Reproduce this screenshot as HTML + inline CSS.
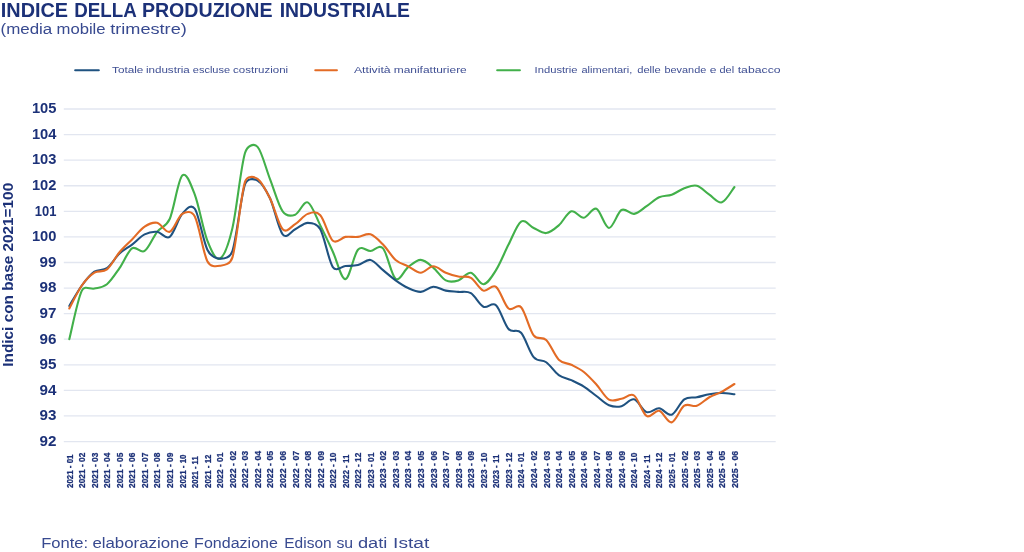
<!DOCTYPE html>
<html lang="it"><head><meta charset="utf-8"><title>Indice della produzione industriale</title>
<style>
html,body{margin:0;padding:0;background:#fff;}
body{width:1024px;height:552px;overflow:hidden;font-family:"Liberation Sans",sans-serif;}
svg{display:block}
text{font-family:"Liberation Sans",sans-serif;}
</style></head><body>
<svg width="1024" height="552" viewBox="0 0 1024 552">
<rect width="1024" height="552" fill="#fff"/>

<text y="16.6" font-size="19.6" font-weight="bold" fill="#1c3178"><tspan x="0.8" textLength="67.3" lengthAdjust="spacingAndGlyphs">INDICE</tspan> <tspan x="74.2" textLength="61.8" lengthAdjust="spacingAndGlyphs">DELLA</tspan> <tspan x="141.9" textLength="130.6" lengthAdjust="spacingAndGlyphs">PRODUZIONE</tspan> <tspan x="279.7" textLength="130.2" lengthAdjust="spacingAndGlyphs">INDUSTRIALE</tspan></text>
<text y="33.6" font-size="15.4" fill="#384a90"><tspan x="0.5" textLength="51.8" lengthAdjust="spacingAndGlyphs">(media</tspan> <tspan x="56.5" textLength="49.1" lengthAdjust="spacingAndGlyphs">mobile</tspan> <tspan x="110.2" textLength="76.6" lengthAdjust="spacingAndGlyphs">trimestre)</tspan></text>
<line x1="75.2" y1="70.3" x2="98.8" y2="70.3" stroke="#1f5280" stroke-width="2.1" stroke-linecap="round"/>
<text y="73.0" font-size="9.4" fill="#3f4f93"><tspan x="112.1" textLength="31.3" lengthAdjust="spacingAndGlyphs">Totale</tspan> <tspan x="145.9" textLength="43.9" lengthAdjust="spacingAndGlyphs">industria</tspan> <tspan x="192.8" textLength="37.3" lengthAdjust="spacingAndGlyphs">escluse</tspan> <tspan x="233.1" textLength="55.0" lengthAdjust="spacingAndGlyphs">costruzioni</tspan></text>
<line x1="315.3" y1="70.3" x2="336.9" y2="70.3" stroke="#e36b25" stroke-width="2.1" stroke-linecap="round"/>
<text y="73.0" font-size="9.4" fill="#3f4f93"><tspan x="353.9" textLength="36.8" lengthAdjust="spacingAndGlyphs">Attività</tspan> <tspan x="393.7" textLength="73.1" lengthAdjust="spacingAndGlyphs">manifatturiere</tspan></text>
<line x1="497.2" y1="70.3" x2="519.9" y2="70.3" stroke="#42b04a" stroke-width="2.1" stroke-linecap="round"/>
<text y="73.0" font-size="9.4" fill="#3f4f93"><tspan x="534.6" textLength="43.0" lengthAdjust="spacingAndGlyphs">Industrie</tspan> <tspan x="581.5" textLength="50.8" lengthAdjust="spacingAndGlyphs">alimentari,</tspan> <tspan x="637.2" textLength="23.6" lengthAdjust="spacingAndGlyphs">delle</tspan> <tspan x="664.5" textLength="41.8" lengthAdjust="spacingAndGlyphs">bevande</tspan> <tspan x="709.8" textLength="6.7" lengthAdjust="spacingAndGlyphs">e</tspan> <tspan x="719.5" textLength="14.6" lengthAdjust="spacingAndGlyphs">del</tspan> <tspan x="737.7" textLength="42.9" lengthAdjust="spacingAndGlyphs">tabacco</tspan></text>
<line x1="63.8" y1="441.54" x2="775.7" y2="441.54" stroke="#e2e6f0" stroke-width="1.3"/>
<line x1="63.8" y1="415.96" x2="775.7" y2="415.96" stroke="#e2e6f0" stroke-width="1.3"/>
<line x1="63.8" y1="390.38" x2="775.7" y2="390.38" stroke="#e2e6f0" stroke-width="1.3"/>
<line x1="63.8" y1="364.80" x2="775.7" y2="364.80" stroke="#e2e6f0" stroke-width="1.3"/>
<line x1="63.8" y1="339.22" x2="775.7" y2="339.22" stroke="#e2e6f0" stroke-width="1.3"/>
<line x1="63.8" y1="313.64" x2="775.7" y2="313.64" stroke="#e2e6f0" stroke-width="1.3"/>
<line x1="63.8" y1="288.06" x2="775.7" y2="288.06" stroke="#e2e6f0" stroke-width="1.3"/>
<line x1="63.8" y1="262.48" x2="775.7" y2="262.48" stroke="#e2e6f0" stroke-width="1.3"/>
<line x1="63.8" y1="236.90" x2="775.7" y2="236.90" stroke="#e2e6f0" stroke-width="1.3"/>
<line x1="63.8" y1="211.32" x2="775.7" y2="211.32" stroke="#e2e6f0" stroke-width="1.3"/>
<line x1="63.8" y1="185.74" x2="775.7" y2="185.74" stroke="#e2e6f0" stroke-width="1.3"/>
<line x1="63.8" y1="160.16" x2="775.7" y2="160.16" stroke="#e2e6f0" stroke-width="1.3"/>
<line x1="63.8" y1="134.58" x2="775.7" y2="134.58" stroke="#e2e6f0" stroke-width="1.3"/>
<line x1="63.8" y1="109.00" x2="775.7" y2="109.00" stroke="#e2e6f0" stroke-width="1.3"/>
<text x="39.5" y="445.84" font-size="13.9" font-weight="bold" fill="#1c3178" textLength="16.9" lengthAdjust="spacingAndGlyphs">92</text>
<text x="39.5" y="420.26" font-size="13.9" font-weight="bold" fill="#1c3178" textLength="16.9" lengthAdjust="spacingAndGlyphs">93</text>
<text x="39.5" y="394.68" font-size="13.9" font-weight="bold" fill="#1c3178" textLength="16.9" lengthAdjust="spacingAndGlyphs">94</text>
<text x="39.5" y="369.10" font-size="13.9" font-weight="bold" fill="#1c3178" textLength="16.9" lengthAdjust="spacingAndGlyphs">95</text>
<text x="39.5" y="343.52" font-size="13.9" font-weight="bold" fill="#1c3178" textLength="16.9" lengthAdjust="spacingAndGlyphs">96</text>
<text x="39.5" y="317.94" font-size="13.9" font-weight="bold" fill="#1c3178" textLength="16.9" lengthAdjust="spacingAndGlyphs">97</text>
<text x="39.5" y="292.36" font-size="13.9" font-weight="bold" fill="#1c3178" textLength="16.9" lengthAdjust="spacingAndGlyphs">98</text>
<text x="39.5" y="266.78" font-size="13.9" font-weight="bold" fill="#1c3178" textLength="16.9" lengthAdjust="spacingAndGlyphs">99</text>
<text x="31.9" y="241.20" font-size="13.9" font-weight="bold" fill="#1c3178" textLength="24.5" lengthAdjust="spacingAndGlyphs">100</text>
<text x="34.8" y="215.62" font-size="13.9" font-weight="bold" fill="#1c3178" textLength="21.6" lengthAdjust="spacingAndGlyphs">101</text>
<text x="31.9" y="190.04" font-size="13.9" font-weight="bold" fill="#1c3178" textLength="24.5" lengthAdjust="spacingAndGlyphs">102</text>
<text x="31.9" y="164.46" font-size="13.9" font-weight="bold" fill="#1c3178" textLength="24.5" lengthAdjust="spacingAndGlyphs">103</text>
<text x="31.9" y="138.88" font-size="13.9" font-weight="bold" fill="#1c3178" textLength="24.5" lengthAdjust="spacingAndGlyphs">104</text>
<text x="31.9" y="113.30" font-size="13.9" font-weight="bold" fill="#1c3178" textLength="24.5" lengthAdjust="spacingAndGlyphs">105</text>
<text transform="translate(13.0,366.7) rotate(-90)" font-size="14.3" font-weight="bold" fill="#1c3178" textLength="183.9" lengthAdjust="spacingAndGlyphs">Indici con base 2021=100</text>
<text transform="translate(72.60,488.0) rotate(-90)" font-size="8.3" font-weight="bold" fill="#1c3178" stroke="#1c3178" stroke-width="0.25" textLength="33.50" lengthAdjust="spacingAndGlyphs">2021 - 01</text>
<text transform="translate(85.15,488.0) rotate(-90)" font-size="8.3" font-weight="bold" fill="#1c3178" stroke="#1c3178" stroke-width="0.25" textLength="35.35" lengthAdjust="spacingAndGlyphs">2021 - 02</text>
<text transform="translate(97.70,488.0) rotate(-90)" font-size="8.3" font-weight="bold" fill="#1c3178" stroke="#1c3178" stroke-width="0.25" textLength="35.35" lengthAdjust="spacingAndGlyphs">2021 - 03</text>
<text transform="translate(110.25,488.0) rotate(-90)" font-size="8.3" font-weight="bold" fill="#1c3178" stroke="#1c3178" stroke-width="0.25" textLength="35.35" lengthAdjust="spacingAndGlyphs">2021 - 04</text>
<text transform="translate(122.80,488.0) rotate(-90)" font-size="8.3" font-weight="bold" fill="#1c3178" stroke="#1c3178" stroke-width="0.25" textLength="35.35" lengthAdjust="spacingAndGlyphs">2021 - 05</text>
<text transform="translate(135.35,488.0) rotate(-90)" font-size="8.3" font-weight="bold" fill="#1c3178" stroke="#1c3178" stroke-width="0.25" textLength="35.35" lengthAdjust="spacingAndGlyphs">2021 - 06</text>
<text transform="translate(147.90,488.0) rotate(-90)" font-size="8.3" font-weight="bold" fill="#1c3178" stroke="#1c3178" stroke-width="0.25" textLength="35.35" lengthAdjust="spacingAndGlyphs">2021 - 07</text>
<text transform="translate(160.45,488.0) rotate(-90)" font-size="8.3" font-weight="bold" fill="#1c3178" stroke="#1c3178" stroke-width="0.25" textLength="35.35" lengthAdjust="spacingAndGlyphs">2021 - 08</text>
<text transform="translate(173.00,488.0) rotate(-90)" font-size="8.3" font-weight="bold" fill="#1c3178" stroke="#1c3178" stroke-width="0.25" textLength="35.35" lengthAdjust="spacingAndGlyphs">2021 - 09</text>
<text transform="translate(185.55,488.0) rotate(-90)" font-size="8.3" font-weight="bold" fill="#1c3178" stroke="#1c3178" stroke-width="0.25" textLength="33.50" lengthAdjust="spacingAndGlyphs">2021 - 10</text>
<text transform="translate(198.10,488.0) rotate(-90)" font-size="8.3" font-weight="bold" fill="#1c3178" stroke="#1c3178" stroke-width="0.25" textLength="31.65" lengthAdjust="spacingAndGlyphs">2021 - 11</text>
<text transform="translate(210.65,488.0) rotate(-90)" font-size="8.3" font-weight="bold" fill="#1c3178" stroke="#1c3178" stroke-width="0.25" textLength="33.50" lengthAdjust="spacingAndGlyphs">2021 - 12</text>
<text transform="translate(223.20,488.0) rotate(-90)" font-size="8.3" font-weight="bold" fill="#1c3178" stroke="#1c3178" stroke-width="0.25" textLength="35.35" lengthAdjust="spacingAndGlyphs">2022 - 01</text>
<text transform="translate(235.75,488.0) rotate(-90)" font-size="8.3" font-weight="bold" fill="#1c3178" stroke="#1c3178" stroke-width="0.25" textLength="37.20" lengthAdjust="spacingAndGlyphs">2022 - 02</text>
<text transform="translate(248.30,488.0) rotate(-90)" font-size="8.3" font-weight="bold" fill="#1c3178" stroke="#1c3178" stroke-width="0.25" textLength="37.20" lengthAdjust="spacingAndGlyphs">2022 - 03</text>
<text transform="translate(260.85,488.0) rotate(-90)" font-size="8.3" font-weight="bold" fill="#1c3178" stroke="#1c3178" stroke-width="0.25" textLength="37.20" lengthAdjust="spacingAndGlyphs">2022 - 04</text>
<text transform="translate(273.40,488.0) rotate(-90)" font-size="8.3" font-weight="bold" fill="#1c3178" stroke="#1c3178" stroke-width="0.25" textLength="37.20" lengthAdjust="spacingAndGlyphs">2022 - 05</text>
<text transform="translate(285.95,488.0) rotate(-90)" font-size="8.3" font-weight="bold" fill="#1c3178" stroke="#1c3178" stroke-width="0.25" textLength="37.20" lengthAdjust="spacingAndGlyphs">2022 - 06</text>
<text transform="translate(298.50,488.0) rotate(-90)" font-size="8.3" font-weight="bold" fill="#1c3178" stroke="#1c3178" stroke-width="0.25" textLength="37.20" lengthAdjust="spacingAndGlyphs">2022 - 07</text>
<text transform="translate(311.05,488.0) rotate(-90)" font-size="8.3" font-weight="bold" fill="#1c3178" stroke="#1c3178" stroke-width="0.25" textLength="37.20" lengthAdjust="spacingAndGlyphs">2022 - 08</text>
<text transform="translate(323.60,488.0) rotate(-90)" font-size="8.3" font-weight="bold" fill="#1c3178" stroke="#1c3178" stroke-width="0.25" textLength="37.20" lengthAdjust="spacingAndGlyphs">2022 - 09</text>
<text transform="translate(336.15,488.0) rotate(-90)" font-size="8.3" font-weight="bold" fill="#1c3178" stroke="#1c3178" stroke-width="0.25" textLength="35.35" lengthAdjust="spacingAndGlyphs">2022 - 10</text>
<text transform="translate(348.70,488.0) rotate(-90)" font-size="8.3" font-weight="bold" fill="#1c3178" stroke="#1c3178" stroke-width="0.25" textLength="33.50" lengthAdjust="spacingAndGlyphs">2022 - 11</text>
<text transform="translate(361.25,488.0) rotate(-90)" font-size="8.3" font-weight="bold" fill="#1c3178" stroke="#1c3178" stroke-width="0.25" textLength="35.35" lengthAdjust="spacingAndGlyphs">2022 - 12</text>
<text transform="translate(373.80,488.0) rotate(-90)" font-size="8.3" font-weight="bold" fill="#1c3178" stroke="#1c3178" stroke-width="0.25" textLength="35.35" lengthAdjust="spacingAndGlyphs">2023 - 01</text>
<text transform="translate(386.35,488.0) rotate(-90)" font-size="8.3" font-weight="bold" fill="#1c3178" stroke="#1c3178" stroke-width="0.25" textLength="37.20" lengthAdjust="spacingAndGlyphs">2023 - 02</text>
<text transform="translate(398.90,488.0) rotate(-90)" font-size="8.3" font-weight="bold" fill="#1c3178" stroke="#1c3178" stroke-width="0.25" textLength="37.20" lengthAdjust="spacingAndGlyphs">2023 - 03</text>
<text transform="translate(411.45,488.0) rotate(-90)" font-size="8.3" font-weight="bold" fill="#1c3178" stroke="#1c3178" stroke-width="0.25" textLength="37.20" lengthAdjust="spacingAndGlyphs">2023 - 04</text>
<text transform="translate(424.00,488.0) rotate(-90)" font-size="8.3" font-weight="bold" fill="#1c3178" stroke="#1c3178" stroke-width="0.25" textLength="37.20" lengthAdjust="spacingAndGlyphs">2023 - 05</text>
<text transform="translate(436.55,488.0) rotate(-90)" font-size="8.3" font-weight="bold" fill="#1c3178" stroke="#1c3178" stroke-width="0.25" textLength="37.20" lengthAdjust="spacingAndGlyphs">2023 - 06</text>
<text transform="translate(449.10,488.0) rotate(-90)" font-size="8.3" font-weight="bold" fill="#1c3178" stroke="#1c3178" stroke-width="0.25" textLength="37.20" lengthAdjust="spacingAndGlyphs">2023 - 07</text>
<text transform="translate(461.65,488.0) rotate(-90)" font-size="8.3" font-weight="bold" fill="#1c3178" stroke="#1c3178" stroke-width="0.25" textLength="37.20" lengthAdjust="spacingAndGlyphs">2023 - 08</text>
<text transform="translate(474.20,488.0) rotate(-90)" font-size="8.3" font-weight="bold" fill="#1c3178" stroke="#1c3178" stroke-width="0.25" textLength="37.20" lengthAdjust="spacingAndGlyphs">2023 - 09</text>
<text transform="translate(486.75,488.0) rotate(-90)" font-size="8.3" font-weight="bold" fill="#1c3178" stroke="#1c3178" stroke-width="0.25" textLength="35.35" lengthAdjust="spacingAndGlyphs">2023 - 10</text>
<text transform="translate(499.30,488.0) rotate(-90)" font-size="8.3" font-weight="bold" fill="#1c3178" stroke="#1c3178" stroke-width="0.25" textLength="33.50" lengthAdjust="spacingAndGlyphs">2023 - 11</text>
<text transform="translate(511.85,488.0) rotate(-90)" font-size="8.3" font-weight="bold" fill="#1c3178" stroke="#1c3178" stroke-width="0.25" textLength="35.35" lengthAdjust="spacingAndGlyphs">2023 - 12</text>
<text transform="translate(524.40,488.0) rotate(-90)" font-size="8.3" font-weight="bold" fill="#1c3178" stroke="#1c3178" stroke-width="0.25" textLength="35.35" lengthAdjust="spacingAndGlyphs">2024 - 01</text>
<text transform="translate(536.95,488.0) rotate(-90)" font-size="8.3" font-weight="bold" fill="#1c3178" stroke="#1c3178" stroke-width="0.25" textLength="37.20" lengthAdjust="spacingAndGlyphs">2024 - 02</text>
<text transform="translate(549.50,488.0) rotate(-90)" font-size="8.3" font-weight="bold" fill="#1c3178" stroke="#1c3178" stroke-width="0.25" textLength="37.20" lengthAdjust="spacingAndGlyphs">2024 - 03</text>
<text transform="translate(562.05,488.0) rotate(-90)" font-size="8.3" font-weight="bold" fill="#1c3178" stroke="#1c3178" stroke-width="0.25" textLength="37.20" lengthAdjust="spacingAndGlyphs">2024 - 04</text>
<text transform="translate(574.60,488.0) rotate(-90)" font-size="8.3" font-weight="bold" fill="#1c3178" stroke="#1c3178" stroke-width="0.25" textLength="37.20" lengthAdjust="spacingAndGlyphs">2024 - 05</text>
<text transform="translate(587.15,488.0) rotate(-90)" font-size="8.3" font-weight="bold" fill="#1c3178" stroke="#1c3178" stroke-width="0.25" textLength="37.20" lengthAdjust="spacingAndGlyphs">2024 - 06</text>
<text transform="translate(599.70,488.0) rotate(-90)" font-size="8.3" font-weight="bold" fill="#1c3178" stroke="#1c3178" stroke-width="0.25" textLength="37.20" lengthAdjust="spacingAndGlyphs">2024 - 07</text>
<text transform="translate(612.25,488.0) rotate(-90)" font-size="8.3" font-weight="bold" fill="#1c3178" stroke="#1c3178" stroke-width="0.25" textLength="37.20" lengthAdjust="spacingAndGlyphs">2024 - 08</text>
<text transform="translate(624.80,488.0) rotate(-90)" font-size="8.3" font-weight="bold" fill="#1c3178" stroke="#1c3178" stroke-width="0.25" textLength="37.20" lengthAdjust="spacingAndGlyphs">2024 - 09</text>
<text transform="translate(637.35,488.0) rotate(-90)" font-size="8.3" font-weight="bold" fill="#1c3178" stroke="#1c3178" stroke-width="0.25" textLength="35.35" lengthAdjust="spacingAndGlyphs">2024 - 10</text>
<text transform="translate(649.90,488.0) rotate(-90)" font-size="8.3" font-weight="bold" fill="#1c3178" stroke="#1c3178" stroke-width="0.25" textLength="33.50" lengthAdjust="spacingAndGlyphs">2024 - 11</text>
<text transform="translate(662.45,488.0) rotate(-90)" font-size="8.3" font-weight="bold" fill="#1c3178" stroke="#1c3178" stroke-width="0.25" textLength="35.35" lengthAdjust="spacingAndGlyphs">2024 - 12</text>
<text transform="translate(675.00,488.0) rotate(-90)" font-size="8.3" font-weight="bold" fill="#1c3178" stroke="#1c3178" stroke-width="0.25" textLength="35.35" lengthAdjust="spacingAndGlyphs">2025 - 01</text>
<text transform="translate(687.55,488.0) rotate(-90)" font-size="8.3" font-weight="bold" fill="#1c3178" stroke="#1c3178" stroke-width="0.25" textLength="37.20" lengthAdjust="spacingAndGlyphs">2025 - 02</text>
<text transform="translate(700.10,488.0) rotate(-90)" font-size="8.3" font-weight="bold" fill="#1c3178" stroke="#1c3178" stroke-width="0.25" textLength="37.20" lengthAdjust="spacingAndGlyphs">2025 - 03</text>
<text transform="translate(712.65,488.0) rotate(-90)" font-size="8.3" font-weight="bold" fill="#1c3178" stroke="#1c3178" stroke-width="0.25" textLength="37.20" lengthAdjust="spacingAndGlyphs">2025 - 04</text>
<text transform="translate(725.20,488.0) rotate(-90)" font-size="8.3" font-weight="bold" fill="#1c3178" stroke="#1c3178" stroke-width="0.25" textLength="37.20" lengthAdjust="spacingAndGlyphs">2025 - 05</text>
<text transform="translate(737.75,488.0) rotate(-90)" font-size="8.3" font-weight="bold" fill="#1c3178" stroke="#1c3178" stroke-width="0.25" textLength="37.20" lengthAdjust="spacingAndGlyphs">2025 - 06</text>
<path d="M69.30,339.22C71.39,331.12 77.67,299.06 81.85,290.62C84.67,284.92 90.22,289.64 94.40,288.57C98.58,287.51 102.77,287.63 106.95,284.22C111.13,280.81 115.32,274.08 119.50,268.11C123.68,262.14 127.87,251.27 132.05,248.41C136.23,245.55 140.42,253.74 144.60,250.97C148.78,248.20 152.97,237.11 157.15,231.78C161.33,226.45 166.05,227.18 169.70,218.99C173.88,209.61 178.07,179.56 182.25,175.51C186.43,171.46 190.68,184.00 194.80,194.69C198.98,205.56 203.17,230.08 207.35,240.74C211.34,250.91 215.72,260.77 219.90,258.64C224.08,256.51 228.62,244.08 232.45,227.95C236.63,210.34 240.82,166.51 245.00,153.00C247.07,146.32 253.37,142.47 257.55,146.86C261.73,151.25 265.92,168.60 270.10,179.34C274.28,190.09 278.47,205.44 282.65,211.32C286.41,216.61 291.02,216.14 295.20,214.65C299.38,213.15 303.57,200.58 307.75,202.37C311.93,204.16 316.12,217.16 320.30,225.39C324.48,233.62 328.67,242.78 332.85,251.74C337.03,260.69 341.22,279.45 345.40,279.11C349.58,278.77 353.77,254.38 357.95,249.69C362.13,245.00 366.32,251.18 370.50,250.97C374.68,250.76 378.87,243.76 383.05,248.41C387.23,253.06 391.42,275.74 395.60,278.85C399.78,281.96 403.97,270.24 408.15,267.08C412.33,263.93 416.52,259.84 420.70,259.92C424.88,260.01 429.07,264.19 433.25,267.60C437.43,271.01 441.62,278.25 445.80,280.39C449.98,282.52 454.17,281.67 458.35,280.39C462.53,279.11 466.72,272.07 470.90,272.71C475.08,273.35 479.27,284.65 483.45,284.22C487.63,283.80 491.82,276.76 496.00,270.15C500.18,263.55 504.37,252.67 508.55,244.57C512.73,236.47 516.92,224.32 521.10,221.55C525.28,218.78 529.47,226.03 533.65,227.95C537.83,229.87 542.02,233.49 546.20,233.06C550.38,232.64 554.57,229.01 558.75,225.39C562.93,221.77 567.12,212.60 571.30,211.32C575.48,210.04 579.67,218.14 583.85,217.71C588.03,217.29 592.22,207.06 596.40,208.76C600.58,210.47 604.77,227.73 608.95,227.95C613.13,228.16 617.32,212.39 621.50,210.04C625.68,207.70 629.87,214.52 634.05,213.88C638.23,213.24 642.42,208.98 646.60,206.20C650.78,203.43 654.97,199.17 659.15,197.25C663.33,195.33 667.52,196.19 671.70,194.69C675.88,193.20 680.07,189.79 684.25,188.30C688.43,186.81 692.62,184.67 696.80,185.74C700.98,186.81 705.17,191.92 709.35,194.69C713.53,197.46 717.72,203.65 721.90,202.37C726.08,201.09 732.36,189.58 734.45,187.02" fill="none" stroke="#42b04a" stroke-width="2.1" stroke-linecap="round" stroke-linejoin="round"/>
<path d="M69.30,305.97C71.39,302.56 77.67,291.21 81.85,285.50C86.03,279.79 90.22,274.59 94.40,271.69C98.58,268.79 102.77,271.13 106.95,268.11C111.13,265.08 115.32,257.45 119.50,253.53C123.68,249.60 127.87,247.77 132.05,244.57C136.23,241.38 140.42,236.47 144.60,234.34C148.78,232.21 152.97,231.36 157.15,231.78C161.33,232.21 165.52,239.88 169.70,236.90C173.88,233.92 178.07,218.57 182.25,213.88C186.43,209.19 190.91,203.21 194.80,208.76C198.98,214.73 203.17,241.38 207.35,249.69C210.81,256.58 215.72,258.43 219.90,258.64C224.08,258.86 230.09,257.94 232.45,250.97C236.63,238.61 240.82,196.19 245.00,184.46C247.21,178.28 253.37,178.28 257.55,180.62C261.73,182.97 265.92,189.58 270.10,198.53C274.28,207.48 278.47,229.23 282.65,234.34C286.83,239.46 291.02,231.14 295.20,229.23C299.38,227.31 303.57,222.83 307.75,222.83C311.93,222.83 316.83,223.10 320.30,229.23C324.48,236.60 328.67,260.95 332.85,267.08C336.40,272.29 341.22,266.40 345.40,266.06C349.58,265.72 353.77,266.06 357.95,265.04C362.13,264.01 366.32,259.07 370.50,259.92C374.68,260.77 378.87,266.74 383.05,270.15C387.23,273.56 391.42,277.40 395.60,280.39C399.78,283.37 403.97,286.14 408.15,288.06C412.33,289.98 416.52,292.11 420.70,291.90C424.88,291.68 429.07,286.99 433.25,286.78C437.43,286.57 441.62,289.77 445.80,290.62C449.98,291.47 454.17,291.47 458.35,291.90C462.53,292.32 466.72,290.70 470.90,293.18C475.08,295.65 479.27,304.73 483.45,306.73C487.63,308.74 491.82,301.49 496.00,305.20C500.18,308.91 504.37,324.38 508.55,328.99C512.73,333.59 516.92,328.14 521.10,332.82C525.28,337.51 529.47,352.22 533.65,357.13C537.83,362.03 542.02,359.26 546.20,362.24C550.38,365.23 554.57,372.05 558.75,375.03C562.93,378.02 567.12,378.23 571.30,380.15C575.48,382.07 579.67,383.90 583.85,386.54C588.03,389.19 592.22,392.90 596.40,396.01C600.58,399.12 604.77,403.51 608.95,405.22C613.13,406.92 617.32,407.22 621.50,406.24C625.68,405.26 629.87,398.35 634.05,399.33C638.23,400.31 642.42,410.63 646.60,412.12C650.78,413.62 654.97,407.86 659.15,408.29C663.33,408.71 667.52,416.17 671.70,414.68C675.88,413.19 680.07,402.23 684.25,399.33C688.43,396.43 692.62,398.14 696.80,397.29C700.98,396.43 705.17,394.94 709.35,394.22C713.53,393.49 717.72,392.94 721.90,392.94C726.08,392.94 732.36,394.00 734.45,394.22" fill="none" stroke="#1f5280" stroke-width="2.1" stroke-linecap="round" stroke-linejoin="round"/>
<path d="M69.30,308.52C71.39,304.69 77.67,291.47 81.85,285.50C86.03,279.53 90.22,275.40 94.40,272.71C98.58,270.03 102.77,272.80 106.95,269.39C111.13,265.98 115.32,257.24 119.50,252.25C123.68,247.26 127.87,243.72 132.05,239.46C136.23,235.19 140.42,229.44 144.60,226.67C148.78,223.90 152.97,221.98 157.15,222.83C161.33,223.68 165.52,233.28 169.70,231.78C173.88,230.29 178.07,216.44 182.25,213.88C186.43,211.32 191.80,210.78 194.80,216.44C198.98,224.32 203.17,252.97 207.35,261.20C210.38,267.16 215.72,266.44 219.90,265.81C224.08,265.17 230.28,264.61 232.45,257.36C236.63,243.38 240.82,194.99 245.00,181.90C246.97,175.75 253.37,176.06 257.55,178.83C261.73,181.60 265.92,190.13 270.10,198.53C274.28,206.93 278.47,224.96 282.65,229.23C286.83,233.49 291.02,226.67 295.20,224.11C299.38,221.55 303.57,215.37 307.75,213.88C311.93,212.39 316.12,210.68 320.30,215.16C324.48,219.63 328.67,237.11 332.85,240.74C337.03,244.36 341.22,237.54 345.40,236.90C349.58,236.26 353.77,237.33 357.95,236.90C362.13,236.47 366.32,233.06 370.50,234.34C374.68,235.62 378.87,240.31 383.05,244.57C387.23,248.84 391.42,256.30 395.60,259.92C399.78,263.55 403.97,264.19 408.15,266.32C412.33,268.45 416.52,272.71 420.70,272.71C424.88,272.71 429.07,266.32 433.25,266.32C437.43,266.32 441.62,271.01 445.80,272.71C449.98,274.42 454.17,275.70 458.35,276.55C462.53,277.40 466.72,275.48 470.90,277.83C475.08,280.17 479.27,289.13 483.45,290.62C487.63,292.11 491.82,283.80 496.00,286.78C500.18,289.77 504.37,305.11 508.55,308.52C512.73,311.93 516.92,302.77 521.10,307.25C525.28,311.72 529.47,329.93 533.65,335.38C537.72,340.69 542.02,335.94 546.20,339.99C550.38,344.04 554.57,355.55 558.75,359.68C562.93,363.82 567.12,362.75 571.30,364.80C575.48,366.85 579.67,368.68 583.85,371.96C588.03,375.25 592.22,379.89 596.40,384.50C600.58,389.10 604.77,397.20 608.95,399.59C613.13,401.98 617.32,399.50 621.50,398.82C625.68,398.14 629.87,392.64 634.05,395.50C638.23,398.35 642.42,413.40 646.60,415.96C650.78,418.52 654.97,409.78 659.15,410.84C663.33,411.91 667.52,423.21 671.70,422.35C675.88,421.50 680.07,408.50 684.25,405.73C688.43,402.96 692.62,407.13 696.80,405.73C700.98,404.32 705.17,399.63 709.35,397.29C713.53,394.94 717.72,393.88 721.90,391.66C726.08,389.44 732.36,385.26 734.45,383.98" fill="none" stroke="#e36b25" stroke-width="2.1" stroke-linecap="round" stroke-linejoin="round"/>
<text y="547.5" font-size="15.2" fill="#384a90"><tspan x="41.2" textLength="47.0" lengthAdjust="spacingAndGlyphs">Fonte:</tspan> <tspan x="92.4" textLength="96.4" lengthAdjust="spacingAndGlyphs">elaborazione</tspan> <tspan x="194.1" textLength="83.8" lengthAdjust="spacingAndGlyphs">Fondazione</tspan> <tspan x="284.3" textLength="47.3" lengthAdjust="spacingAndGlyphs">Edison</tspan> <tspan x="336.4" textLength="16.7" lengthAdjust="spacingAndGlyphs">su</tspan> <tspan x="357.9" textLength="29.4" lengthAdjust="spacingAndGlyphs">dati</tspan> <tspan x="393.1" textLength="36.2" lengthAdjust="spacingAndGlyphs">Istat</tspan></text>
</svg></body></html>
